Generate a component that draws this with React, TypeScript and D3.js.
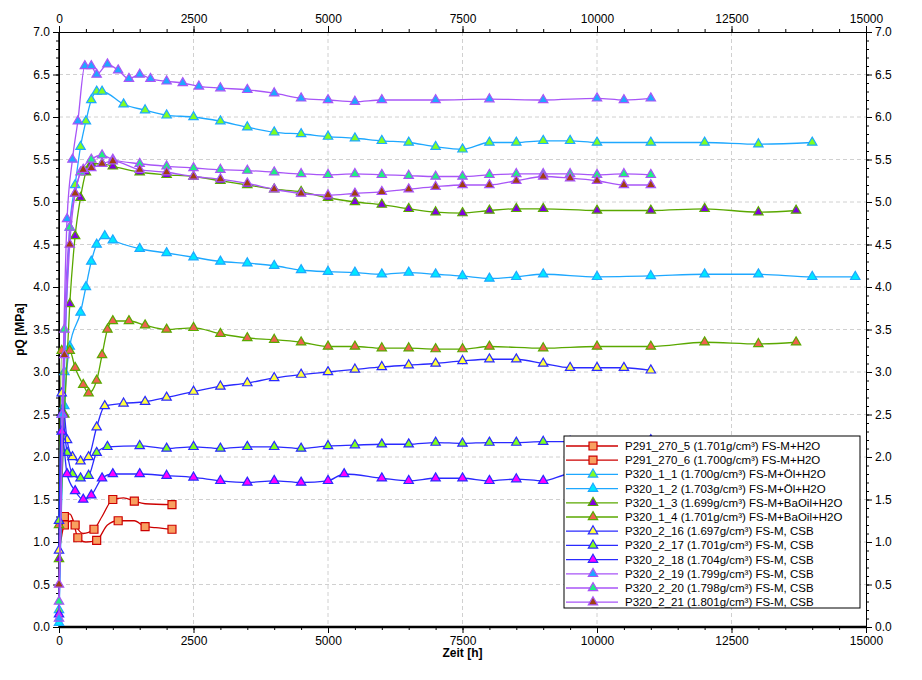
import * as d3 from "d3";
import React, { useEffect, useRef } from "react";

type Pt = [number, number];

const xTicks = [0, 2500, 5000, 7500, 10000, 12500, 15000];
const yTicks = [0, 0.5, 1, 1.5, 2, 2.5, 3, 3.5, 4, 4.5, 5, 5.5, 6, 6.5, 7];

const p291_5: Pt[] = [[0,0.85],[100,1.2],[250,1.25],[350,1.05],[500,1.0],[700,1.02],[900,1.2],[1100,1.25],[1400,1.25],[1600,1.18],[1800,1.17],[2100,1.15]];
const p291_6: Pt[] = [[0,0.9],[100,1.3],[200,1.33],[300,1.2],[450,1.1],[650,1.15],[800,1.3],[1000,1.5],[1200,1.52],[1400,1.48],[1600,1.45],[2100,1.44]];
const p1_1: Pt[] = [[0,0.2],[100,3],[200,4.7],[300,5.2],[400,5.65],[500,5.95],[600,6.2],[700,6.3],[800,6.3],[1200,6.15],[1600,6.08],[2000,6.02],[2500,6.0],[3000,5.95],[3500,5.88],[4000,5.82],[4500,5.8],[5000,5.77],[5500,5.75],[6000,5.72],[6500,5.7],[7000,5.65],[7500,5.62],[8000,5.7],[8500,5.7],[9000,5.72],[9500,5.72],[10000,5.7],[11000,5.7],[12000,5.7],[13000,5.68],[14000,5.7]];
const p1_2: Pt[] = [[0,0.05],[100,2.6],[200,3.3],[400,3.7],[500,4.0],[600,4.3],[700,4.5],[850,4.6],[1000,4.55],[1500,4.45],[2000,4.4],[2500,4.35],[3000,4.3],[3500,4.28],[4000,4.25],[4500,4.2],[5000,4.18],[5500,4.17],[6000,4.15],[6500,4.17],[7000,4.15],[7500,4.13],[8000,4.1],[8500,4.12],[9000,4.15],[10000,4.12],[11000,4.13],[12000,4.15],[13000,4.15],[14000,4.12],[14800,4.12]];
const p1_3: Pt[] = [[0,0.8],[100,2.5],[200,3.8],[300,4.6],[400,5.05],[500,5.35],[600,5.45],[800,5.45],[1000,5.42],[1500,5.35],[2000,5.32],[2500,5.3],[3000,5.25],[3500,5.2],[4000,5.15],[4500,5.12],[5000,5.05],[5500,5.0],[6000,4.97],[6500,4.92],[7000,4.88],[7500,4.87],[8000,4.9],[8500,4.92],[9000,4.92],[10000,4.9],[11000,4.9],[12000,4.92],[13000,4.88],[13700,4.9]];
const p1_4: Pt[] = [[0,1.2],[50,3.25],[200,3.25],[300,3.05],[450,2.85],[550,2.75],[700,2.9],[800,3.2],[900,3.5],[1000,3.6],[1300,3.6],[1600,3.55],[2000,3.5],[2500,3.52],[3000,3.45],[3500,3.4],[4000,3.38],[4500,3.35],[5000,3.3],[5500,3.3],[6000,3.28],[6500,3.28],[7000,3.27],[7500,3.27],[8000,3.3],[9000,3.28],[10000,3.3],[11000,3.3],[12000,3.35],[13000,3.33],[13700,3.35]];
const p2_16: Pt[] = [[0,0.9],[50,2.75],[150,2.2],[250,2.0],[400,1.95],[550,2.0],[700,2.35],[850,2.6],[1200,2.63],[1600,2.65],[2000,2.7],[2500,2.77],[3000,2.83],[3500,2.87],[4000,2.93],[4500,2.97],[5000,3.0],[5500,3.03],[6000,3.06],[6500,3.08],[7000,3.1],[7500,3.13],[8000,3.15],[8500,3.15],[9000,3.1],[9500,3.05],[10000,3.05],[10500,3.05],[11000,3.02]];
const p2_17: Pt[] = [[0,1.25],[50,2.5],[150,2.05],[250,1.8],[400,1.75],[550,1.78],[700,2.05],[900,2.12],[1500,2.13],[2000,2.1],[2500,2.12],[3000,2.1],[3500,2.12],[4000,2.12],[4500,2.1],[5000,2.13],[5500,2.14],[6000,2.15],[6500,2.15],[7000,2.17],[7500,2.16],[8000,2.17],[8500,2.17],[9000,2.18],[9500,2.18],[11000,2.2]];
const p2_18: Pt[] = [[0,0.15],[50,2.3],[150,1.8],[300,1.6],[450,1.5],[600,1.55],[800,1.75],[1000,1.8],[1500,1.8],[2000,1.78],[2500,1.76],[3000,1.72],[3500,1.7],[4000,1.72],[4500,1.7],[5000,1.72],[5300,1.8],[6000,1.75],[6500,1.72],[7000,1.75],[7500,1.75],[8000,1.72],[8500,1.74],[9000,1.72],[9500,1.8],[11000,1.8]];
const p2_19: Pt[] = [[0,0.1],[60,2.5],[150,4.8],[250,5.5],[350,5.95],[480,6.6],[600,6.6],[700,6.5],[900,6.62],[1100,6.55],[1300,6.45],[1500,6.5],[1700,6.45],[2000,6.42],[2300,6.4],[2600,6.36],[3000,6.34],[3500,6.32],[4000,6.28],[4500,6.22],[5000,6.2],[5500,6.18],[6000,6.2],[7000,6.2],[8000,6.21],[9000,6.2],[10000,6.22],[10500,6.2],[11000,6.22]];
const p2_20: Pt[] = [[0,0.3],[100,3.5],[200,4.7],[300,5.1],[400,5.35],[600,5.5],[800,5.55],[1000,5.5],[1500,5.45],[2000,5.42],[2500,5.4],[3000,5.38],[3500,5.37],[4000,5.35],[4500,5.33],[5000,5.32],[5500,5.33],[6000,5.32],[6500,5.31],[7000,5.3],[7500,5.3],[8000,5.32],[8500,5.33],[9000,5.33],[9500,5.33],[10000,5.32],[10500,5.33],[11000,5.32]];
const p2_21: Pt[] = [[0,0.5],[100,3.2],[200,4.5],[300,5.1],[450,5.38],[600,5.4],[800,5.45],[1000,5.48],[1500,5.38],[2000,5.35],[2500,5.3],[3000,5.27],[3500,5.22],[4000,5.15],[4500,5.1],[5000,5.08],[5500,5.1],[6000,5.12],[6500,5.15],[7000,5.18],[7500,5.2],[8000,5.2],[8500,5.25],[9000,5.3],[9500,5.28],[10000,5.25],[10500,5.2],[11000,5.2]];

const seriesNames = [
  "P291_270_5 (1.701g/cm³) FS-M+H2O",
  "P291_270_6 (1.700g/cm³) FS-M+H2O",
  "P320_1_1 (1.700g/cm³) FS-M+Öl+H2O",
  "P320_1_2 (1.703g/cm³) FS-M+Öl+H2O",
  "P320_1_3 (1.699g/cm³) FS-M+BaOil+H2O",
  "P320_1_4 (1.701g/cm³) FS-M+BaOil+H2O",
  "P320_2_16 (1.697g/cm³) FS-M, CSB",
  "P320_2_17 (1.701g/cm³) FS-M, CSB",
  "P320_2_18 (1.704g/cm³) FS-M, CSB",
  "P320_2_19 (1.799g/cm³) FS-M, CSB",
  "P320_2_20 (1.798g/cm³) FS-M, CSB",
  "P320_2_21 (1.801g/cm³) FS-M, CSB",
];
const seriesData = [p291_5, p291_6, p1_1, p1_2, p1_3, p1_4, p2_16, p2_17, p2_18, p2_19, p2_20, p2_21];
const lineColors = ["#cc0000", "#cc0000", "#1ea8ff", "#1ea8ff", "#5aa800", "#5aa800", "#2a2aff", "#2a2aff", "#2a2aff", "#a855f7", "#a855f7", "#a855f7"];
const markerFills = ["#f8a060", "#f8a060", "#80ff20", "#00e8ff", "#8000e0", "#f06050", "#ffff40", "#80ff20", "#ff00ff", "#1ea8ff", "#20f080", "#a04010"];
const markerShapes = ["square", "square", "tri", "tri", "tri", "tri", "tri", "tri", "tri", "tri", "tri", "tri"];

const W = 922, H = 680;
const m = { left: 59, right: 866, top: 32, bottom: 627 };

export default function App() {
  const ref = useRef<SVGSVGElement | null>(null);

  useEffect(() => {
    if (!ref.current) return;
    const svg = d3.select(ref.current);
    svg.selectAll("*").remove();
    const font = "Liberation Sans, Arial, sans-serif";

    const x = d3.scaleLinear().domain([0, 15000]).range([m.left, m.right]);
    const y = d3.scaleLinear().domain([0, 7]).range([m.bottom, m.top]);

    // grid
    const grid = svg.append("g").attr("stroke", "#d0d0d0").attr("stroke-dasharray", "4,3");
    grid.selectAll("line.v").data(xTicks.slice(1, -1)).enter().append("line")
      .attr("x1", (d) => x(d)).attr("x2", (d) => x(d)).attr("y1", m.top).attr("y2", m.bottom);
    grid.selectAll("line.h").data(yTicks.slice(1, -1)).enter().append("line")
      .attr("y1", (d) => y(d)).attr("y2", (d) => y(d)).attr("x1", m.left).attr("x2", m.right);

    // axes
    const fmtY = d3.format(".1f");
    const addAxis = (axis: d3.Axis<d3.NumberValue>, tr: string) => {
      const g = svg.append("g").attr("transform", tr).call(axis);
      g.selectAll("text").style("font-family", font).style("font-size", "12px").attr("fill", "#000");
      g.select(".domain").attr("stroke", "#000");
      return g;
    };
    const minorX = d3.range(0, 15001, 500);
    const minorY = d3.range(0, 7.01, 0.1);
    [d3.axisBottom(x), d3.axisTop(x)].forEach((a, i) => {
      addAxis(a.tickValues(minorX).tickSize(3).tickFormat(() => ""), `translate(0,${i ? m.top : m.bottom})`);
    });
    [d3.axisLeft(y), d3.axisRight(y)].forEach((a, i) => {
      addAxis(a.tickValues(minorY).tickSize(3).tickFormat(() => ""), `translate(${i ? m.right : m.left},0)`);
    });
    addAxis(d3.axisBottom(x).tickValues(xTicks).tickSize(6).tickFormat(d3.format("d")), `translate(0,${m.bottom})`);
    addAxis(d3.axisTop(x).tickValues(xTicks).tickSize(6).tickFormat(d3.format("d")), `translate(0,${m.top})`);
    addAxis(d3.axisLeft(y).tickValues(yTicks).tickSize(6).tickFormat((d) => fmtY(d as number)), `translate(${m.left},0)`);
    addAxis(d3.axisRight(y).tickValues(yTicks).tickSize(6).tickFormat((d) => fmtY(d as number)), `translate(${m.right},0)`);
    svg.append("line").attr("x1", m.left).attr("x2", m.right).attr("y1", m.bottom).attr("y2", m.bottom).attr("stroke", "#000").attr("stroke-width", 2.5);
    svg.append("line").attr("x1", m.left).attr("x2", m.left).attr("y1", m.top).attr("y2", m.bottom).attr("stroke", "#000").attr("stroke-width", 1.5);

    const tri = d3.symbol().type(d3.symbolTriangle).size(38);
    const sq = d3.symbol().type(d3.symbolSquare).size(64);
    const drawMarker = (g: d3.Selection<SVGGElement, unknown, null, undefined>, i: number, px: number, py: number) => {
      g.append("path")
        .attr("d", (markerShapes[i] === "square" ? sq : tri)()!)
        .attr("transform", `translate(${px},${py})`)
        .attr("fill", markerFills[i])
        .attr("stroke", lineColors[i])
        .attr("stroke-width", 1.2);
    };

    const line = d3.line<Pt>().x((d) => x(d[0])).y((d) => y(d[1])).curve(d3.curveMonotoneX);
    const plot = svg.append("g");
    seriesData.forEach((data, i) => {
      const g = plot.append("g");
      g.append("path").attr("d", line(data)!).attr("fill", "none").attr("stroke", lineColors[i]).attr("stroke-width", 1.3);
      const step = markerShapes[i] === "square" ? 2 : 1;
      data.forEach((d, j) => {
        if (j % step === 1 || step === 1) drawMarker(g, i, x(d[0]), y(d[1]));
      });
    });

    // legend
    const lx = 564, ly = 436, rowH = 14.2;
    const lg = svg.append("g");
    lg.append("rect").attr("x", lx).attr("y", ly).attr("width", 296).attr("height", 172)
      .attr("fill", "#fff").attr("stroke", "#000");
    seriesNames.forEach((name, i) => {
      const cy = ly + 10 + i * rowH;
      lg.append("line").attr("x1", lx + 2).attr("x2", lx + 54).attr("y1", cy).attr("y2", cy).attr("stroke", lineColors[i]).attr("stroke-width", 1.3);
      drawMarker(lg as any, i, lx + 29, cy);
      lg.append("text").attr("x", lx + 61).attr("y", cy + 4).text(name)
        .style("font-family", font).style("font-size", "11.5px");
    });

    // titles
    svg.append("text").attr("x", (m.left + m.right) / 2).attr("y", 657).attr("text-anchor", "middle")
      .style("font-family", font).style("font-size", "12px").style("font-weight", "bold").text("Zeit [h]");
    svg.append("text").attr("transform", `translate(24,${(m.top + m.bottom) / 2}) rotate(-90)`).attr("text-anchor", "middle")
      .style("font-family", font).style("font-size", "12px").style("font-weight", "bold").text("pQ [MPa]");
  }, []);

  return <svg ref={ref} width={W} height={H} style={{ position: "absolute", left: 0, top: 0, background: "#fff" }} />;
}
